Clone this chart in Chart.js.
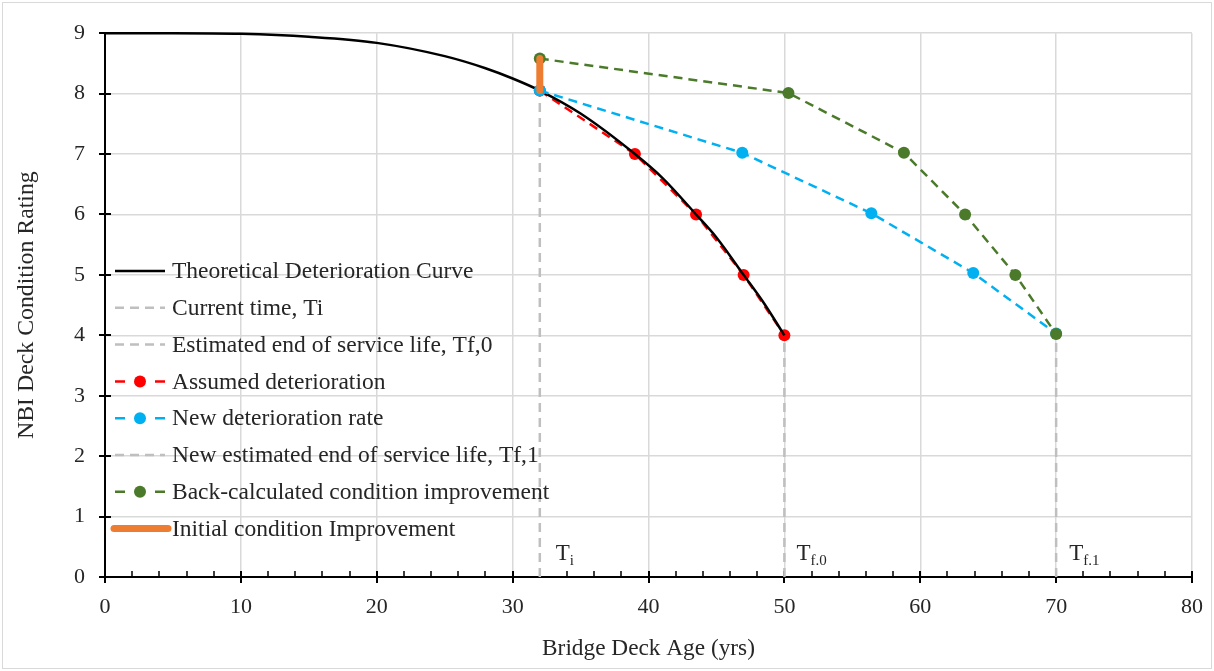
<!DOCTYPE html>
<html><head><meta charset="utf-8">
<script src="https://cdn.jsdelivr.net/npm/chart.js@4.4.0/dist/chart.umd.min.js"></script>
<style>html,body{margin:0;padding:0;background:#fff}#wrap{width:1214px;height:671px;position:relative}</style>
</head><body><div id="wrap"><canvas id="c"></canvas></div>
<script>
// ---- data ----
const theoryAge    = [0, 5, 10, 15, 20, 25, 28, 30, 32, 35, 39, 41, 43.5, 45, 47, 48.5, 50];
const theoryRating = [9, 9, 8.99, 8.94, 8.84, 8.62, 8.42, 8.25, 8.05, 7.67, 7.0, 6.61, 6.0, 5.62, 5.0, 4.53, 4.0];
const assumedAge    = [32, 39, 43.5, 47, 50];
const assumedRating = [8.05, 7, 6, 5, 4];
const newRateAge    = [32, 46.9, 56.4, 63.9, 70];
const newRateRating = [8.05, 7.02, 6.02, 5.03, 4.03];
const backAge    = [32, 50.3, 58.8, 63.3, 67, 70];
const backRating = [8.58, 8.01, 7.02, 6.0, 5.0, 4.02];
const improveAge    = [32, 32];
const improveRating = [8.05, 8.58];
const currentTimeAge = [32, 32];
const currentTimeRating = [0, 8.05];
const endLife0Age = [50, 50];
const endLife0Rating = [0, 4];
const endLife1Age = [70, 70];
const endLife1Rating = [0, 4];
const legendLabels = [
  'Theoretical Deterioration Curve',
  'Current time, Ti',
  'Estimated end of service life, Tf,0',
  'Assumed deterioration',
  'New deterioration rate',
  'New estimated end of service life, Tf,1',
  'Back-calculated condition improvement',
  'Initial condition Improvement'
];
const markerAges = [32, 50, 70];
const markerMain = ['T', 'T', 'T'];
const markerSub  = ['i', 'f.0', 'f.1'];
const xTitle = 'Bridge Deck Age (yrs)';
const yTitle = 'NBI Deck Condition Rating';
const xMin = 0, xMax = 80, xStep = 10, xMinorStep = 2;
const yMin = 0, yMax = 9, yStep = 1;

const pts = (xs, ys) => xs.map((x, i) => ({x, y: ys[i]}));
const FONT = '"Liberation Serif", "Times New Roman", serif';
const TXT = '#262626';
const GRAY = '#bfbfbf', RED = '#ff0000', BLUE = '#00b0f0', GREEN = '#4b7a2b', ORANGE = '#ed7d31';
const markerDx = [16, 12, 13];

const datasets = [
  {label: legendLabels[0], data: pts(theoryAge, theoryRating), borderColor: '#000', borderWidth: 2.5, pointRadius: 0, cubicInterpolationMode: 'monotone', order: 5, _leg: 'solid'},
  {label: legendLabels[1], data: pts(currentTimeAge, currentTimeRating), borderColor: GRAY, borderWidth: 2.5, borderDash: [9, 6], pointRadius: 0, order: 9, _leg: 'dash'},
  {label: legendLabels[2], data: pts(endLife0Age, endLife0Rating), borderColor: GRAY, borderWidth: 2.5, borderDash: [9, 6], pointRadius: 0, order: 9, _leg: 'dash'},
  {label: legendLabels[3], data: pts(assumedAge, assumedRating), borderColor: RED, backgroundColor: RED, borderWidth: 2.5, borderDash: [9, 6], pointRadius: 6, pointBorderWidth: 0, order: 6, _leg: 'marker'},
  {label: legendLabels[4], data: pts(newRateAge, newRateRating), borderColor: BLUE, backgroundColor: BLUE, borderWidth: 2.5, borderDash: [9, 6], pointRadius: 6, pointBorderWidth: 0, order: 4, _leg: 'marker'},
  {label: legendLabels[5], data: pts(endLife1Age, endLife1Rating), borderColor: GRAY, borderWidth: 2.5, borderDash: [9, 6], pointRadius: 0, order: 9, _leg: 'dash'},
  {label: legendLabels[6], data: pts(backAge, backRating), borderColor: GREEN, backgroundColor: GREEN, borderWidth: 2.5, borderDash: [9, 6], pointRadius: 6, pointBorderWidth: 0, order: 3, _leg: 'marker'},
  {label: legendLabels[7], data: pts(improveAge, improveRating), borderColor: ORANGE, borderWidth: 7, borderCapStyle: 'round', pointRadius: 0, order: 1, _leg: 'thick'}
];
datasets.forEach(d => { d.showLine = true; d.fill = false; d.clip = false; d.pointHoverRadius = d.pointRadius; });

const decorPlugin = {
  id: 'decor',
  beforeDraw(chart) {
    const ctx = chart.ctx;
    ctx.save();
    ctx.strokeStyle = '#d9d9d9';
    ctx.lineWidth = 1;
    ctx.strokeRect(2.5, 2.5, chart.width - 5, chart.height - 5);
    ctx.restore();
  },
  beforeDatasetsDraw(chart) {
    const {ctx, chartArea: a, scales: {x, y}} = chart;
    ctx.save();
    ctx.strokeStyle = '#000';
    ctx.lineWidth = 2;
    ctx.beginPath();
    ctx.moveTo(a.left, a.top); ctx.lineTo(a.left, a.bottom); ctx.lineTo(a.right, a.bottom);
    for (let v = yMin; v <= yMax; v += yStep) { const py = Math.round(y.getPixelForValue(v)); ctx.moveTo(a.left - 6, py); ctx.lineTo(a.left + 6, py); }
    for (let v = xMin; v <= xMax; v += xStep) { const px = Math.round(x.getPixelForValue(v)); ctx.moveTo(px, a.bottom - 6); ctx.lineTo(px, a.bottom + 6); }
    ctx.stroke();
    ctx.lineWidth = 1.5;
    ctx.beginPath();
    for (let v = xMin; v <= xMax; v += xMinorStep) { if (v % xStep === 0) continue; const px = Math.round(x.getPixelForValue(v)); ctx.moveTo(px, a.bottom - 6); ctx.lineTo(px, a.bottom); }
    ctx.stroke();
    ctx.restore();
  },
  afterDraw(chart) {
    const {ctx, chartArea: a, scales: {x, y}} = chart;
    ctx.save();
    ctx.fillStyle = TXT;
    ctx.textBaseline = 'alphabetic';
    markerAges.forEach((age, i) => {
      const px = x.getPixelForValue(age) + markerDx[i];
      const py = a.bottom - 17;
      ctx.font = '23px ' + FONT;
      ctx.fillText(markerMain[i], px, py);
      const w = ctx.measureText(markerMain[i]).width;
      ctx.font = '15px ' + FONT;
      ctx.fillText(markerSub[i], px + w, py + 5);
    });
    const lx = 115, lx2 = 165, tx = 172, y0 = 271, dy = 36.8;
    ctx.font = '23.5px ' + FONT;
    ctx.textBaseline = 'middle';
    chart.data.datasets.forEach((d, i) => {
      const cy = y0 + i * dy;
      ctx.save();
      ctx.strokeStyle = d.borderColor;
      ctx.lineWidth = 2.5;
      if (d._leg === 'solid') {
        ctx.beginPath(); ctx.moveTo(lx, cy); ctx.lineTo(lx2, cy); ctx.stroke();
      } else if (d._leg === 'dash') {
        ctx.setLineDash([9, 6]);
        ctx.beginPath(); ctx.moveTo(lx, cy); ctx.lineTo(lx2, cy); ctx.stroke();
      } else if (d._leg === 'marker') {
        ctx.beginPath(); ctx.moveTo(lx, cy); ctx.lineTo(lx + 10, cy); ctx.moveTo(lx2 - 10, cy); ctx.lineTo(lx2, cy); ctx.stroke();
        ctx.fillStyle = d.backgroundColor;
        ctx.beginPath(); ctx.arc((lx + lx2) / 2, cy, 6, 0, Math.PI * 2); ctx.fill();
      } else if (d._leg === 'thick') {
        ctx.lineWidth = 7; ctx.lineCap = 'round';
        ctx.beginPath(); ctx.moveTo(lx - 1, cy); ctx.lineTo(lx2 + 3, cy); ctx.stroke();
      }
      ctx.restore();
      ctx.fillStyle = TXT;
      ctx.fillText(d.label, tx, cy + 1);
    });
    ctx.restore();
  }
};

new Chart(document.getElementById('c'), {
  type: 'scatter',
  data: {datasets},
  options: {
    responsive: true, maintainAspectRatio: false, animation: false,
    layout: {padding: {left: 0, top: 33, right: 22, bottom: 0}},
    plugins: {legend: {display: false}, tooltip: {enabled: false}},
    events: [],
    scales: {
      x: {
        type: 'linear', min: xMin, max: xMax,
        afterFit(s) { s.height = 94; s.paddingLeft = 0; s.paddingRight = 0; },
        ticks: {stepSize: xStep, color: TXT, font: {family: FONT, size: 22}, padding: 17},
        grid: {color: '#d9d9d9', lineWidth: 1.5, drawTicks: false},
        border: {display: false},
        title: {display: true, text: xTitle, color: TXT, font: {family: FONT, size: 23.3}, padding: {top: 0, bottom: 8}}
      },
      y: {
        type: 'linear', min: yMin, max: yMax,
        afterFit(s) { s.width = 105; },
        ticks: {stepSize: yStep, color: TXT, font: {family: FONT, size: 22}, padding: 20},
        grid: {color: '#d9d9d9', lineWidth: 1.5, drawTicks: false},
        border: {display: false},
        title: {display: true, text: yTitle, color: TXT, font: {family: FONT, size: 23.8}, padding: {top: 12, bottom: 0}}
      }
    }
  },
  plugins: [decorPlugin]
});
</script></body></html>
